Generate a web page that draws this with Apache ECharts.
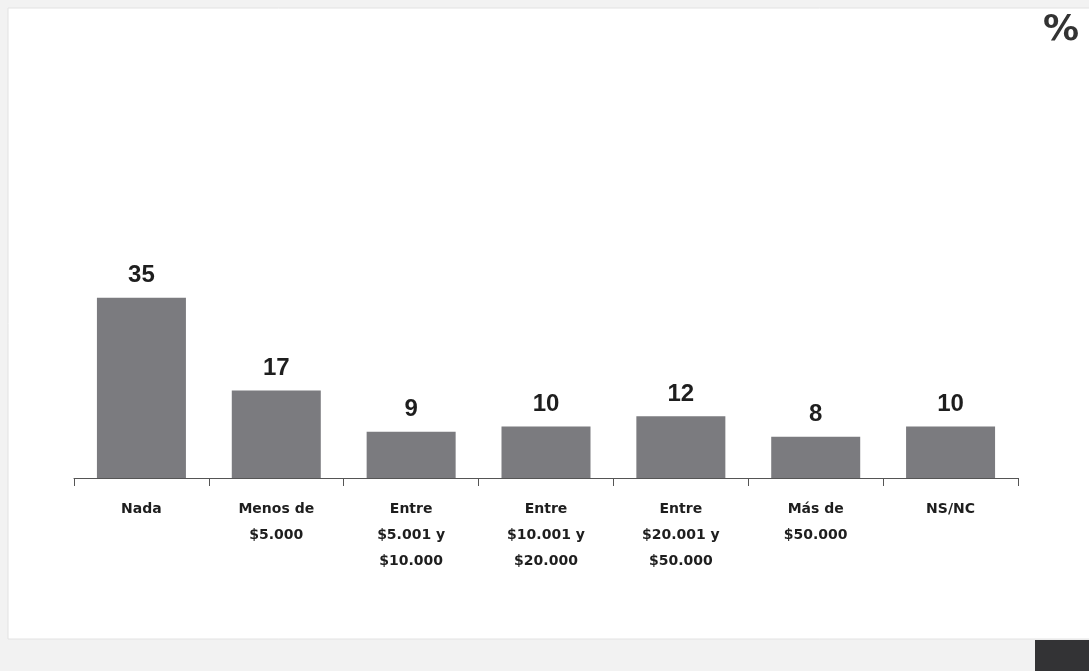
<!DOCTYPE html>
<html><head><meta charset="utf-8">
<script src="https://cdn.jsdelivr.net/npm/echarts@6/dist/echarts.min.js"></script>
<style>html,body{margin:0;padding:0;background:#f2f2f2}#c{width:1089px;height:671px}</style>
</head><body><div id="c"></div>
<script>
const categories = ['Nada', 'Menos de\n$5.000', 'Entre\n$5.001 y\n$10.000', 'Entre\n$10.001 y\n$20.000', 'Entre\n$20.001 y\n$50.000', 'Más de\n$50.000', 'NS/NC'];
const values = [35, 17, 9, 10, 12, 8, 10];
const unitLabel = '%';

const chart = echarts.init(document.getElementById('c'));
chart.setOption({
  backgroundColor: '#f2f2f2',
  animation: false,
  graphic: [
    { type: 'rect', z: -10, shape: { x: 8, y: 8, width: 1090, height: 631 },
      style: { fill: '#ffffff', stroke: '#e2e2e2', lineWidth: 1 } },
    { type: 'rect', z: -5, shape: { x: 1035, y: 640, width: 60, height: 40 },
      style: { fill: '#333335' } },
    { type: 'text', left: 1043, top: 13,
      style: { text: unitLabel, fontSize: 36, fontWeight: 'bold', fill: '#333333', fontFamily: 'DejaVu Sans' } }
  ],
  grid: { left: 74, right: 71, top: 169, bottom: 193 },
  xAxis: {
    type: 'category', data: categories,
    axisLine: { lineStyle: { color: '#555555', width: 1 } },
    axisTick: { show: true, length: 8, lineStyle: { color: '#555555' } },
    axisLabel: { interval: 0, margin: 18, lineHeight: 26, fontSize: 14, fontWeight: 'bold',
      color: '#1e1e1e', fontFamily: 'DejaVu Sans' }
  },
  yAxis: { type: 'value', min: 0, max: 60, show: false, splitLine: { show: false } },
  series: [{
    type: 'bar', data: values, barWidth: 89,
    itemStyle: { color: '#7b7b7f' },
    label: { show: true, position: 'top', distance: 10, fontSize: 24, fontWeight: 'bold',
      color: '#1e1e1e', fontFamily: 'Liberation Sans' }
  }]
});
</script></body></html>
